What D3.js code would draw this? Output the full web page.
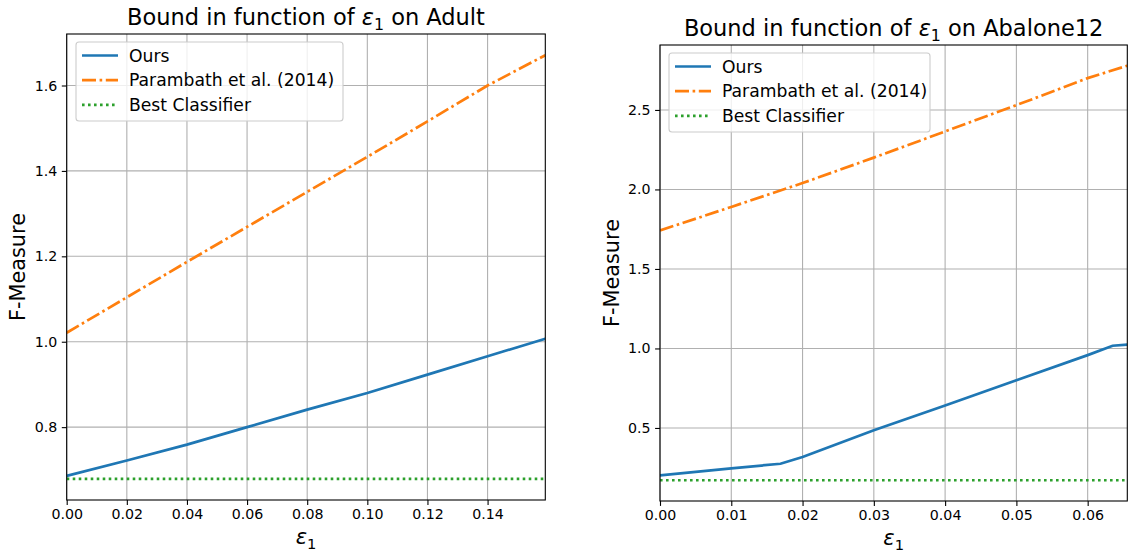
<!DOCTYPE html>
<html><head><meta charset="utf-8">
<script src="https://cdn.jsdelivr.net/npm/d3@7"></script>
<style>
body{margin:0;background:#fff;}
svg{font-family:"DejaVu Sans",sans-serif;}
</style></head>
<body><svg id="c" width="1130" height="552"></svg>
<script>
// ---- Data ----
const seriesNames = ["Ours", "Parambath et al. (2014)", "Best Classifier"];
const colors = ["#1f77b4", "#ff7f0e", "#2ca02c"];

// Adult
const adultEps = [0, 0.02, 0.04, 0.06, 0.08, 0.10, 0.12, 0.14, 0.1592];
const adultOurs = [0.686, 0.722, 0.759, 0.800, 0.841, 0.880, 0.923, 0.966, 1.007];
const adultParambath = [1.021, 1.104, 1.187, 1.269, 1.351, 1.433, 1.516, 1.600, 1.671];
const adultBest = [0.679, 0.679, 0.679, 0.679, 0.679, 0.679, 0.679, 0.679, 0.679];
const adultXTicks = [0, 0.02, 0.04, 0.06, 0.08, 0.10, 0.12, 0.14];
const adultYTicks = [0.8, 1.0, 1.2, 1.4, 1.6];

// Abalone12
const abaEpsOurs = [0, 0.01, 0.0169, 0.02, 0.03, 0.04, 0.05, 0.06, 0.0635, 0.06556];
const abaOurs = [0.202, 0.246, 0.275, 0.317, 0.485, 0.641, 0.800, 0.958, 1.017, 1.024];
const abaEps = [0, 0.01, 0.02, 0.03, 0.04, 0.05, 0.06, 0.06556];
const abaParambath = [1.742, 1.890, 2.040, 2.200, 2.365, 2.530, 2.700, 2.778];
const abaBest = [0.171, 0.171, 0.171, 0.171, 0.171, 0.171, 0.171, 0.171];
const abaXTicks = [0, 0.01, 0.02, 0.03, 0.04, 0.05, 0.06];
const abaYTicks = [0.5, 1.0, 1.5, 2.0, 2.5];

const svg = d3.select("#c");

function panel(cfg) {
  const {x0, x1, y0, y1, xmax, series, xTicks, yTicks, title, titleY, legend} = cfg;
  const allY = series.flatMap(s => s.y);
  const mn = d3.min(allY), mx = d3.max(allY), m = (mx - mn) * 0.05;
  const x = d3.scaleLinear().domain([0, xmax]).range([x0, x1]);
  const y = d3.scaleLinear().domain([mn - m, mx + m]).range([y1, y0]);
  const g = svg.append("g");

  // grid
  g.selectAll(".gx").data(xTicks).join("line")
    .attr("x1", d => x(d)).attr("x2", d => x(d)).attr("y1", y0).attr("y2", y1)
    .attr("stroke", "#b0b0b0").attr("stroke-width", 1.1);
  g.selectAll(".gy").data(yTicks).join("line")
    .attr("y1", d => y(d)).attr("y2", d => y(d)).attr("x1", x0).attr("x2", x1)
    .attr("stroke", "#b0b0b0").attr("stroke-width", 1.1);

  // lines
  const dashes = [null, "14,3.6,2.6,3.6", "2.6,3.4"];
  const lw = 2.7;
  const clipId = "clip" + Math.round(x0);
  svg.append("clipPath").attr("id", clipId).append("rect")
    .attr("x", x0).attr("y", y0).attr("width", x1 - x0).attr("height", y1 - y0);
  series.forEach((s, i) => {
    const line = d3.line().x((d, j) => x(s.x[j])).y(d => y(d)).curve(d3.curveLinear);
    g.append("path").datum(s.y).attr("d", line).attr("clip-path", `url(#${clipId})`)
      .attr("fill", "none").attr("stroke", colors[i]).attr("stroke-width", lw)
      .attr("stroke-dasharray", dashes[i]);
  });

  // axes
  const xa = d3.axisBottom(x).tickValues(xTicks).tickFormat(d3.format(".2f")).tickSize(4.9).tickPadding(4.5);
  const ya = d3.axisLeft(y).tickValues(yTicks).tickFormat(d3.format(".1f")).tickSize(4.9).tickPadding(4.5);
  const gx = g.append("g").attr("transform", `translate(0,${y1})`).call(xa);
  const gy = g.append("g").attr("transform", `translate(${x0},0)`).call(ya);
  [gx, gy].forEach(a => {
    a.select(".domain").remove();
    a.selectAll("text").attr("font-size", 14.2).attr("fill", "#000").attr("font-family", "DejaVu Sans");
    a.selectAll("line").attr("stroke", "#000").attr("stroke-width", 1.1);
  });
  // frame
  g.append("rect").attr("x", x0).attr("y", y0).attr("width", x1 - x0).attr("height", y1 - y0)
    .attr("fill", "none").attr("stroke", "#000").attr("stroke-width", 1.1);

  // title
  const t = g.append("text").attr("x", (x0 + x1) / 2).attr("y", titleY).attr("text-anchor", "middle")
    .attr("font-size", 22.5);
  t.append("tspan").text(title[0]);
  t.append("tspan").attr("font-style", "italic").text("ε");
  t.append("tspan").attr("font-size", 15.8).attr("dy", 4.5).text("1");
  t.append("tspan").attr("dy", -4.5).text(" " + title[1]);

  // x label
  const xl = g.append("text").attr("x", (x0 + x1) / 2).attr("y", y1 + 44).attr("text-anchor", "middle")
    .attr("font-size", 21);
  xl.append("tspan").attr("font-style", "italic").text("ε");
  xl.append("tspan").attr("font-size", 14.7).attr("dy", 5).text("1");

  // y label
  g.append("text").attr("transform", `translate(${cfg.ylabX},${(y0 + y1) / 2}) rotate(-90)`)
    .attr("text-anchor", "middle").attr("font-size", 20.8).text("F-Measure");

  // legend
  const L = legend;
  g.append("rect").attr("x", L.x).attr("y", L.y).attr("width", L.w).attr("height", 79).attr("rx", 3)
    .attr("fill", "#fff").attr("fill-opacity", 0.8).attr("stroke", "#cccccc").attr("stroke-width", 1.1);
  seriesNames.forEach((n, i) => {
    const ly = L.y + 13.5 + i * 24.7;
    g.append("line").attr("x1", L.x + 6).attr("x2", L.x + 42).attr("y1", ly).attr("y2", ly)
      .attr("stroke", colors[i]).attr("stroke-width", lw).attr("stroke-dasharray", dashes[i]);
    g.append("text").attr("x", L.x + 53).attr("y", ly + 6).attr("font-size", 17.2).text(n);
  });
}

panel({
  x0: 66.7, x1: 545.3, y0: 34, y1: 500, xmax: 0.1592,
  series: [{x: adultEps, y: adultOurs}, {x: adultEps, y: adultParambath}, {x: adultEps, y: adultBest}],
  xTicks: adultXTicks, yTicks: adultYTicks,
  title: ["Bound in function of ", "on Adult"], titleY: 25, ylabX: 25,
  legend: {x: 76, y: 42, w: 267}
});
panel({
  x0: 660, x1: 1127.3, y0: 45, y1: 501, xmax: 0.06556,
  series: [{x: abaEpsOurs, y: abaOurs}, {x: abaEps, y: abaParambath}, {x: abaEps, y: abaBest}],
  xTicks: abaXTicks, yTicks: abaYTicks,
  title: ["Bound in function of ", "on Abalone12"], titleY: 36, ylabX: 619,
  legend: {x: 669, y: 53, w: 261}
});
</script></body></html>
